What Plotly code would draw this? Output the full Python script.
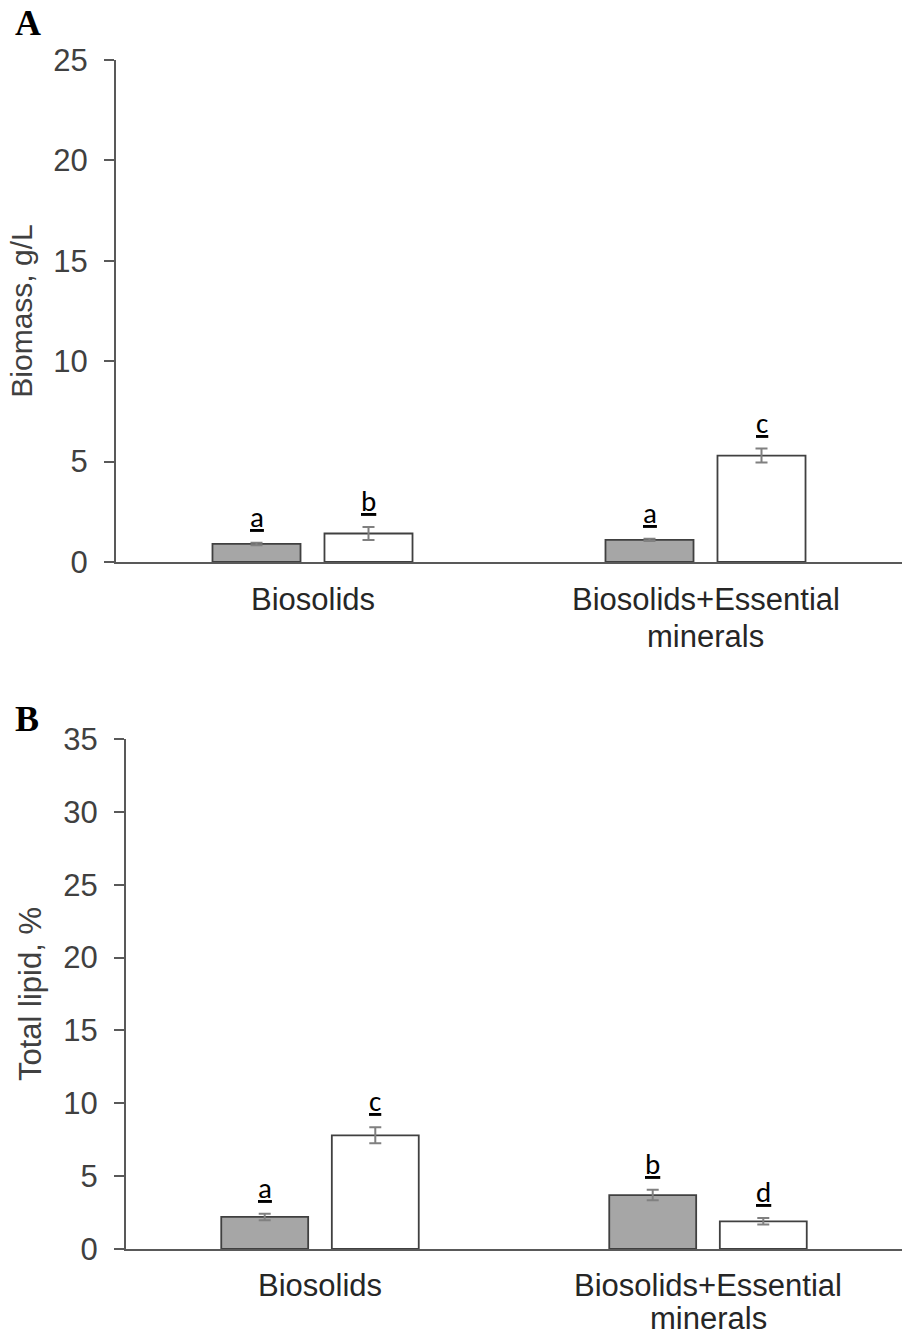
import plotly.graph_objects as go

# Culture conditions (x categories); "<br>" marks a line break in the label
groups = ["Biosolids", "Biosolids+Essential<br>minerals"]

# Panel A: biomass, g/L
biomass_grey = [0.9, 1.1]
biomass_grey_err = [0.06, 0.06]
biomass_white = [1.42, 5.3]
biomass_white_err = [0.32, 0.35]
biomass_grey_letters = ["a", "a"]
biomass_white_letters = ["b", "c"]

# Panel B: total lipid, %
lipid_grey = [2.2, 3.7]
lipid_grey_err = [0.22, 0.36]
lipid_white = [7.8, 1.9]
lipid_white_err = [0.55, 0.22]
lipid_grey_letters = ["a", "b"]
lipid_white_letters = ["c", "d"]

yticks_a = [0, 5, 10, 15, 20, 25]
yticks_b = [0, 5, 10, 15, 20, 25, 30, 35]

W, H = 902, 1338
OUTLINE = "#404040"
GREY_FILL = "#a6a6a6"
ERR_COLOR = "#808080"
AXIS_COLOR = "#595959"
TEXT_COLOR = "#262626"
BASE_FONT = "Liberation Sans, Arial, sans-serif"
LETTER_FONT = "Carlito, Open Sans, sans-serif"

BARGAP = 0.43
GROUPGAP = 0.214
half_slot = (1 - BARGAP) / 4  # offset of each bar centre from the category centre

fig = go.Figure()


def add_panel(grey, grey_err, white, white_err, xa, ya):
    fig.add_trace(go.Bar(
        x=list(range(len(groups))), y=grey, xaxis=xa, yaxis=ya, name="grey",
        marker=dict(color=GREY_FILL, line=dict(color=OUTLINE, width=1.8)),
        error_y=dict(type="data", array=grey_err, color=ERR_COLOR, thickness=2, width=6),
        showlegend=False,
    ))
    fig.add_trace(go.Bar(
        x=list(range(len(groups))), y=white, xaxis=xa, yaxis=ya, name="white",
        marker=dict(color="white", line=dict(color=OUTLINE, width=1.8)),
        error_y=dict(type="data", array=white_err, color=ERR_COLOR, thickness=2, width=6),
        showlegend=False,
    ))


def add_letters(vals, errs, letters, side, xref, yref):
    for i, (v, e, t) in enumerate(zip(vals, errs, letters)):
        fig.add_annotation(
            x=i + side * half_slot, y=v + e, xref=xref, yref=yref,
            text="<u>" + t + "</u>", showarrow=False,
            yanchor="bottom", xanchor="center", yshift=6,
            font=dict(family=LETTER_FONT, size=29, color="black"),
        )


def add_category_labels(xref, yref, first_shift, spacing):
    # category names drawn under the axis, one annotation per text line
    for i, label in enumerate(groups):
        for j, line in enumerate(label.split("<br>")):
            fig.add_annotation(
                x=i, y=0, xref=xref, yref=yref, text=line, showarrow=False,
                xanchor="center", yanchor="middle",
                yshift=-(first_shift + j * spacing),
                font=dict(family=BASE_FONT, size=31, color=TEXT_COLOR),
            )


add_panel(biomass_grey, biomass_grey_err, biomass_white, biomass_white_err, "x", "y")
add_panel(lipid_grey, lipid_grey_err, lipid_white, lipid_white_err, "x2", "y2")

add_letters(biomass_grey, biomass_grey_err, biomass_grey_letters, -1, "x", "y")
add_letters(biomass_white, biomass_white_err, biomass_white_letters, 1, "x", "y")
add_letters(lipid_grey, lipid_grey_err, lipid_grey_letters, -1, "x2", "y2")
add_letters(lipid_white, lipid_white_err, lipid_white_letters, 1, "x2", "y2")

add_category_labels("x", "y", 37, 37)
add_category_labels("x2", "y2", 36, 33)

xcommon = dict(
    range=[-0.5, len(groups) - 0.5], showline=True, linecolor=AXIS_COLOR, linewidth=2,
    ticks="", showgrid=False, zeroline=False, automargin=False, showticklabels=False,
)
ycommon = dict(
    showline=True, linecolor=AXIS_COLOR, linewidth=2, ticks="outside", ticklen=10,
    tickwidth=2, tickcolor=AXIS_COLOR, showgrid=False, zeroline=False, automargin=False,
    tickfont=dict(family=BASE_FONT, size=31, color="#404040"),
    ticklabelstandoff=10,
)

fig.update_layout(
    width=W, height=H,
    margin=dict(l=0, r=0, t=0, b=0),
    paper_bgcolor="white", plot_bgcolor="white",
    barmode="group", bargap=BARGAP, bargroupgap=GROUPGAP,
    xaxis=dict(**xcommon, domain=[116 / W, 1.0], anchor="y"),
    yaxis=dict(**ycommon, domain=[1 - 562 / H, 1 - 60 / H], anchor="x",
               range=[0, 25], tickvals=yticks_a,
               title=dict(text="Biomass, g/L", standoff=12,
                          font=dict(family=BASE_FONT, size=30, color="#404040"))),
    xaxis2=dict(**xcommon, domain=[126 / W, 1.0], anchor="y2"),
    yaxis2=dict(**ycommon, domain=[1 - 1249 / H, 1 - 739 / H], anchor="x2",
                range=[0, 35], tickvals=yticks_b,
                title=dict(text="Total lipid, %", standoff=12,
                           font=dict(family=BASE_FONT, size=31, color="#404040"))),
)

# Panel letters
for label, ypx in (("A", 1), ("B", 697)):
    fig.add_annotation(
        x=13 / W, y=1 - ypx / H, xref="paper", yref="paper",
        text="<b>" + label + "</b>", showarrow=False,
        xanchor="left", yanchor="top",
        font=dict(family="Liberation Serif, Times New Roman, serif", size=36, color="black"),
    )

fig.write_html("out.html")
